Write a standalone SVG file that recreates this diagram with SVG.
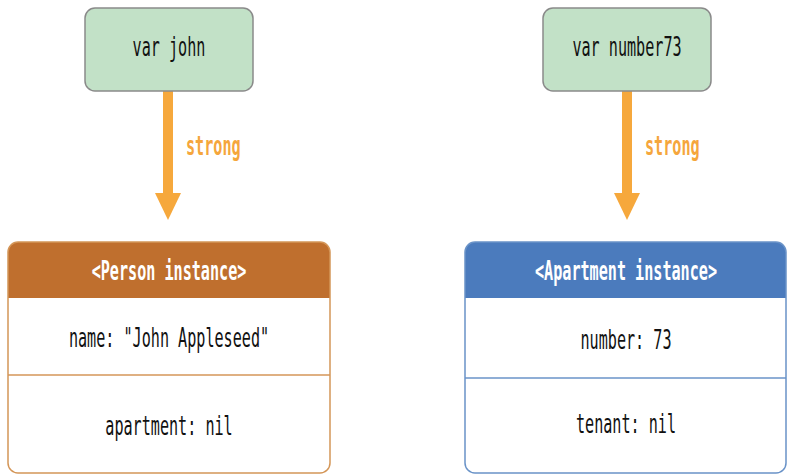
<svg xmlns="http://www.w3.org/2000/svg" width="787" height="475" viewBox="0 0 787 475">
<style>
.t{font-family:"DejaVu Sans Mono","Liberation Mono",monospace;font-size:27px;text-anchor:middle;fill:#111}
.h{fill:#fff;font-weight:bold}
.s{fill:#f5a63c;font-weight:bold;text-anchor:start}
.var{fill:#c2e1c7;stroke:#8a8a8a;stroke-width:1.5}
</style>
<rect width="787" height="475" fill="#fff"/>
<g id="connectors">
<g id="arrow-john">
<rect x="163" y="91" width="10" height="103" fill="#f6a83c"/>
<polygon points="155,193 181,193 168,220" fill="#f6a83c"/>
<text class="t s" transform="translate(186,155) scale(0.56,1)">strong</text>
</g>
<g id="arrow-number73">
<rect x="622" y="91" width="10" height="103" fill="#f6a83c"/>
<polygon points="614,193 640,193 627,220" fill="#f6a83c"/>
<text class="t s" transform="translate(645,155) scale(0.56,1)">strong</text>
</g>
</g>
<g id="var-john">
<rect class="var" x="85" y="8" width="168" height="83" rx="10"/>
<text class="t" transform="translate(169,56) scale(0.56,1)">var john</text>
</g>
<g id="var-number73">
<rect class="var" x="543" y="8" width="168" height="83" rx="10"/>
<text class="t" transform="translate(627,56) scale(0.56,1)">var number73</text>
</g>
<g id="person">
<path d="M8,298 V252 a10,10 0 0 1 10,-10 H320 a10,10 0 0 1 10,10 V298 Z" fill="#bf6f2e"/>
<rect x="8" y="242" width="322" height="231" rx="10" fill="none" stroke="#d49658" stroke-width="1.5"/>
<line x1="8" y1="375" x2="330" y2="375" stroke="#d49658" stroke-width="1.5"/>
<text class="t h" transform="translate(169,280) scale(0.56,1)">&lt;Person instance&gt;</text>
<text class="t" transform="translate(169,347) scale(0.56,1)">name: "John Appleseed"</text>
<text class="t" transform="translate(169,435) scale(0.56,1)">apartment: nil</text>
</g>
<g id="apartment">
<path d="M465,298 V252 a10,10 0 0 1 10,-10 H776 a10,10 0 0 1 10,10 V298 Z" fill="#4b7bbd"/>
<rect x="465" y="242" width="321" height="231" rx="10" fill="none" stroke="#6a93c8" stroke-width="1.5"/>
<line x1="465" y1="378" x2="786" y2="378" stroke="#6a93c8" stroke-width="1.5"/>
<text class="t h" transform="translate(626,280) scale(0.56,1)">&lt;Apartment instance&gt;</text>
<text class="t" transform="translate(626,349) scale(0.56,1)">number: 73</text>
<text class="t" transform="translate(626,433) scale(0.56,1)">tenant: nil</text>
</g>
</svg>
